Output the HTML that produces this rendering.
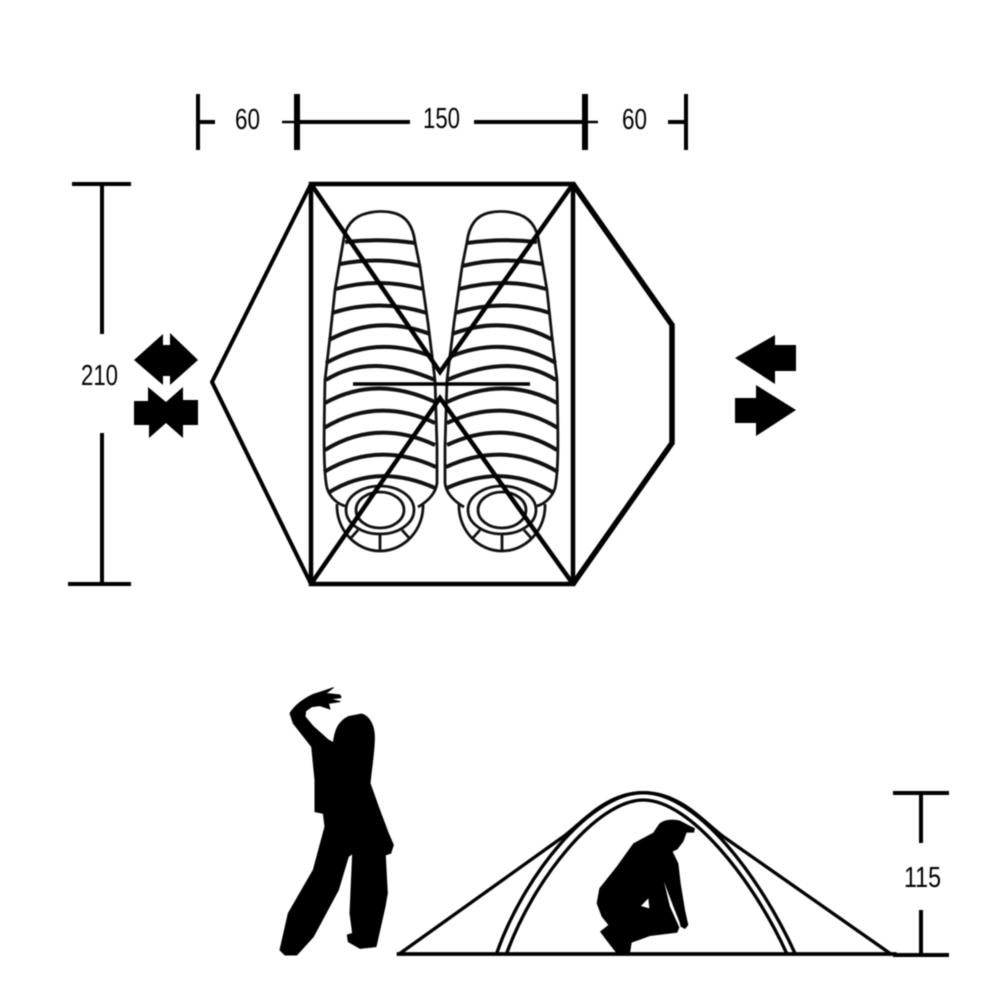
<!DOCTYPE html>
<html>
<head>
<meta charset="utf-8">
<style>
html,body{margin:0;padding:0;background:#fff;width:1002px;height:1002px;overflow:hidden}
svg{display:block;filter:blur(.4px)}
text{font-family:"Liberation Sans",sans-serif;font-size:29px;fill:#000}
</style>
</head>
<body>
<svg width="1002" height="1002" viewBox="0 0 1002 1002" xmlns="http://www.w3.org/2000/svg">
<defs>
<g id="bag" fill="none" stroke="#111">
  <path stroke-width="2.8" d="M345,506 C338,504 330,498 327,488 C323,470 324,430 325,380 L330,337 L335,290 L343,243 C345,225 354,216 368,213 C376,211 386,211 394,213 C406,216 413,226 415,242 L420,267 L428,323 L435,380 L437,447 L437,483 C436,492 430,500 418,507"/>
  <g stroke-width="4">
    <path d="M345,242 Q380,238 415,243"/>
    <path d="M340,264 Q380,256 420,266"/>
    <path d="M336,289 Q377,277 423,289"/>
    <path d="M332,313 Q378,298 427,313"/>
    <path d="M329,340 Q377,314 430,334"/>
    <path d="M326,363 Q377,334 433,357"/>
    <path d="M326,380 Q370,352 435,380"/>
    <path d="M325,403 Q377,374 437,403"/>
    <path d="M324,428 Q377,396 435,423"/>
    <path d="M325,450 Q377,418 435,445"/>
    <path d="M324,472 Q377,440 436,467"/>
    <path d="M328,493 Q377,462 435,488"/>
  </g>
  <g stroke-width="2.8">
    <ellipse cx="380" cy="510" rx="34" ry="24"/>
    <ellipse cx="380" cy="510" rx="24" ry="18"/>
    <path d="M337,504 C336,530 356,551 380,551 C404,551 424,530 423,504"/>
    <path d="M380,535 V550 M358,530 L350,539 M402,530 L410,539"/>
  </g>
</g>
</defs>

<!-- dimension top -->
<g stroke="#000" fill="none">
  <path stroke-width="4" d="M198,94 V150 M686,94 V150"/>
  <path stroke-width="6" d="M297,94 V150 M585,94 V150"/>
  <path stroke-width="4" d="M198,122 H215 M297,122 H410 M474,122 H585 M668,122 H686"/>
  <path stroke-width="2.5" d="M282,122 H297 M585,122 H598"/>
  <!-- left dim -->
  <path stroke-width="4" d="M72,184 H131 M68,584 H131 M102,184 V334 M102,433 V584"/>
  <!-- right dim -->
  <path stroke-width="4" d="M893,793 H949 M893,955 H949 M921,793 V843 M921,910 V955"/>
</g>
<text x="235" y="129" textLength="25" lengthAdjust="spacingAndGlyphs">60</text>
<text x="423" y="128" textLength="37" lengthAdjust="spacingAndGlyphs">150</text>
<text x="622" y="129" textLength="25" lengthAdjust="spacingAndGlyphs">60</text>
<text x="81" y="385" textLength="37" lengthAdjust="spacingAndGlyphs">210</text>
<text x="904" y="887" textLength="37" lengthAdjust="spacingAndGlyphs">115</text>

<!-- sleeping bags -->
<use href="#bag"/>
<use href="#bag" transform="translate(882,0) scale(-1,1)"/>

<!-- tent plan -->
<g fill="none" stroke="#000" stroke-linejoin="miter">
  <rect x="311" y="184" width="262" height="400" stroke-width="4.5"/>
  <path stroke-width="4" d="M311,184 L212,382 L311,584"/>
  <path stroke-width="5.5" d="M573,184 L672,325 V443 L573,584"/>
  <path stroke-width="4.5" d="M311,184 L440,372 L573,184 M311,584 L440,398 L573,584"/>
  <path stroke-width="3.5" d="M353,384 H530"/>
</g>

<!-- wind arrows -->
<g fill="#000">
  <polygon points="134,360 163,334 163,345 170,345 170,333 198,360 170,385 170,376 163,376 163,385"/>
  <polygon points="134,401 148,401 148,387 166,402 183,387 183,400 198,400 198,425 183,425 183,438 166,423 149,438 149,425 134,425"/>
  <polygon points="735,358 775,335 775,345 796,345 796,371 775,371 775,384"/>
  <polygon points="796,410 756,385 756,398 735,398 735,423 756,423 756,436"/>
</g>

<!-- standing person -->
<g transform="translate(270,680) scale(.33333)">
  <path fill="#000" stroke="#000" stroke-width="3" stroke-linejoin="round" d="M60,100 C75,75 105,55 130,43 L155,35 L190,23 L167,40 L210,45 L213,53 L180,57 L210,65 L175,70 L180,87 L150,77 L125,80 L107,93 L105,110 L130,140 L175,180 L190,188 C195,150 205,125 235,110 L275,102 C300,110 315,140 313,180 C312,220 305,260 300,310 L325,380 L355,460 L370,495 L362,520 L345,525 L345,510 L352,640 L345,680 L318,800 L270,805 L235,785 L232,765 L248,760 L240,700 L248,520 L235,530 L205,630 L130,770 L80,825 L45,825 L30,810 L55,700 L130,570 L165,440 L160,400 L135,395 L135,300 L125,200 L70,130 Z"/>
</g>

<!-- side view tent -->
<g transform="translate(390,780) scale(.33333)">
  <g fill="none" stroke="#000">
    <path stroke-width="10" d="M30,520 L520,170 C580,125 650,38 760,38 C870,38 940,125 1000,170 L1500,520"/>
    <path stroke-width="10" d="M320,520 C400,290 600,38 760,38 C920,38 1110,290 1215,520"/>
    <path stroke-width="10" d="M350,520 C430,300 620,60 760,60 C900,60 1090,300 1190,520"/>
    <path stroke-width="11" d="M20,522 H1520"/>
  </g>
</g>
<!-- crouching person -->
<g transform="translate(590,810) scale(.33333)">
  <path fill="#000" fill-rule="evenodd" d="M205,45 C215,30 245,25 270,32 L295,45 L315,55 L312,68 L290,68 L280,95 L262,118 L248,125 L265,160 L272,220 L285,300 L295,345 L285,357 L272,350 L268,335 L250,290 L222,215 L240,290 L268,352 L262,368 L180,378 L125,398 L120,430 L80,430 L50,392 L30,365 L55,345 L35,320 L20,280 L28,235 L80,170 L130,100 L190,68 Z M175,265 L153,288 L178,295 Z"/>
</g>
</svg>
</body>
</html>
